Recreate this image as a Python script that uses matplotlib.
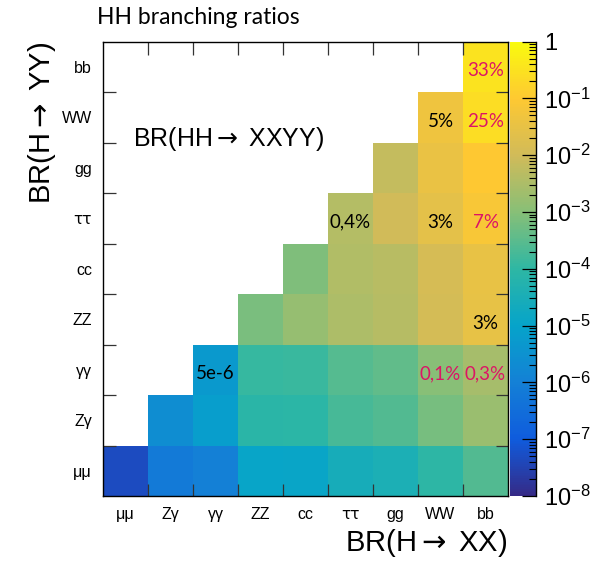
import numpy as np
import matplotlib
matplotlib.use("Agg")
import matplotlib.pyplot as plt
from matplotlib.colors import LinearSegmentedColormap, LogNorm
from matplotlib.ticker import FixedLocator, LogLocator, NullFormatter

plt.rcParams["font.family"] = ["Liberation Sans", "DejaVu Sans"]
plt.rcParams["mathtext.fontset"] = "custom"
plt.rcParams["mathtext.rm"] = "Liberation Sans"
plt.rcParams["mathtext.it"] = "Liberation Sans:italic"
plt.rcParams["mathtext.sf"] = "DejaVu Sans"

# Decay channels, same order on both axes
channels = ["μμ", "Zγ", "γγ", "ZZ", "cc", "ττ", "gg", "WW", "bb"]

# BR(HH -> XXYY) per YY row, starting at the diagonal (X = Y) and going right
row_mumu = [4.75e-8, 6.71e-7, 9.90e-7, 1.15e-5, 1.26e-5, 2.73e-5, 3.57e-5, 9.38e-5, 2.53e-4]
row_zgam = [2.37e-6, 6.99e-6, 8.13e-5, 8.87e-5, 1.93e-4, 2.52e-4, 6.63e-4, 1.79e-3]
row_gamgam = [5.15e-6, 1.20e-4, 1.31e-4, 2.85e-4, 3.71e-4, 9.77e-4, 2.64e-3]
row_zz = [6.97e-4, 1.52e-3, 3.31e-3, 4.32e-3, 1.14e-2, 3.07e-2]
row_cc = [8.29e-4, 3.61e-3, 4.71e-3, 1.24e-2, 3.35e-2]
row_tautau = [3.93e-3, 1.03e-2, 2.70e-2, 7.29e-2]
row_gluglu = [6.69e-3, 3.52e-2, 9.50e-2]
row_ww = [4.63e-2, 0.250]
row_bb = [0.337]
rows = [row_mumu, row_zgam, row_gamgam, row_zz, row_cc, row_tautau, row_gluglu, row_ww, row_bb]

# Annotated cells: (XX, YY, text, highlighted)
annotations = [
    ("bb", "bb", "33%", True),
    ("WW", "WW", "5%", False),
    ("bb", "WW", "25%", True),
    ("ττ", "ττ", "0,4%", False),
    ("WW", "ττ", "3%", False),
    ("bb", "ττ", "7%", True),
    ("bb", "ZZ", "3%", False),
    ("γγ", "γγ", "5e-6", False),
    ("WW", "γγ", "0,1%", True),
    ("bb", "γγ", "0,3%", True),
]

# ROOT "kBird" palette
bird_r = [0.2082, 0.0592, 0.0780, 0.0232, 0.1802, 0.5301, 0.8186, 0.9956, 0.9764]
bird_g = [0.1664, 0.3599, 0.5041, 0.6419, 0.7178, 0.7492, 0.7328, 0.7862, 0.9832]
bird_b = [0.5293, 0.8684, 0.8385, 0.7914, 0.6425, 0.4662, 0.3499, 0.1968, 0.0539]
stops = np.linspace(0, 1, 9)
cmap = LinearSegmentedColormap.from_list(
    "bird", list(zip(stops, zip(bird_r, bird_g, bird_b))), N=255)
norm = LogNorm(vmin=1e-8, vmax=1.0)

n = len(channels)
grid = np.full((n, n), np.nan)
for iy, row in enumerate(rows):
    grid[iy, iy:iy + len(row)] = row
grid = np.ma.masked_invalid(grid)

fig = plt.figure(figsize=(6.13, 5.61), dpi=100)
W, H = 613, 561
ax = fig.add_axes([103 / W, 1 - 496 / H, 405 / W, 454.5 / H])
cax = fig.add_axes([510 / W, 1 - 496 / H, 26 / W, 454.5 / H])

edges = np.arange(n + 1)
mesh = ax.pcolormesh(edges, edges, grid, cmap=cmap, norm=norm, shading="flat")
ax.set_xlim(0, n)
ax.set_ylim(0, n)

# ticks at cell boundaries, labels at cell centres
ax.xaxis.set_major_locator(FixedLocator(np.arange(1, n)))
ax.yaxis.set_major_locator(FixedLocator(np.arange(1, n)))
ax.xaxis.set_minor_locator(FixedLocator(np.arange(n) + 0.5))
ax.yaxis.set_minor_locator(FixedLocator(np.arange(n) + 0.5))
ax.set_xticklabels([], minor=False)
ax.set_yticklabels([], minor=False)
ax.set_xticklabels(channels, minor=True)
ax.set_yticklabels(channels, minor=True)
ax.tick_params(which="major", direction="in", top=True, right=True,
               length=9, width=0.9, color="#333333")
ax.tick_params(which="minor", length=0, labelsize=11.5)
ax.tick_params(axis="x", which="minor", pad=8)
ax.tick_params(axis="y", which="minor", pad=8)
# keep the two taus apart
for lab in ax.get_xticklabels(minor=True) + ax.get_yticklabels(minor=True):
    if lab.get_text() == "ττ":
        lab.set_fontfamily("DejaVu Sans")
        lab.set_fontsize(11)
for sp in ax.spines.values():
    sp.set_linewidth(1.0)

for xc, yc, txt, hot in annotations:
    ix, iy = channels.index(xc), channels.index(yc)
    ax.text(ix + 0.5, iy + 0.42, txt, ha="center", va="center",
            fontsize=13.5, family=["Lato", "DejaVu Sans"],
            color="#dc1466" if hot else "black")

# colour scale
cb = fig.colorbar(mesh, cax=cax)
cb.outline.set_visible(False)
cax.plot([1, 1], [0, 1], transform=cax.transAxes, color="black", lw=1.0, clip_on=False)
decades = [10.0 ** (-k) for k in range(0, 9)]
cax.yaxis.set_major_locator(FixedLocator(decades))
cax.set_yticklabels(["1"] + [r"$10^{-%d}$" % k for k in range(1, 9)])
cax.yaxis.set_minor_locator(LogLocator(base=10, subs=np.arange(2, 10), numticks=20))
cax.yaxis.set_minor_formatter(NullFormatter())
cax.tick_params(which="major", direction="in", length=10, width=0.9, labelsize=17, pad=6)
cax.tick_params(which="minor", direction="in", length=5, width=0.8)

arrow = r"$\mathsf{\rightarrow}$"
fig.text(97 / W, 1 - 17 / H, "HH branching ratios", ha="left", va="center",
         fontsize=16.5, family=["Lato", "DejaVu Sans"])
fig.text(42 / W, 1 - 42 / H, "BR(H" + arrow + " YY)", rotation=90, ha="center", va="top",
         fontsize=21)
fig.text(507 / W, 1 - 543 / H, "BR(H" + arrow + " XX)", ha="right", va="center", fontsize=21)
ax.text(133 / W, 1 - 139 / H, "BR(HH" + arrow + " XXYY)", transform=fig.transFigure,
        ha="left", va="center", fontsize=18)

fig.savefig("out.png", dpi=100)
